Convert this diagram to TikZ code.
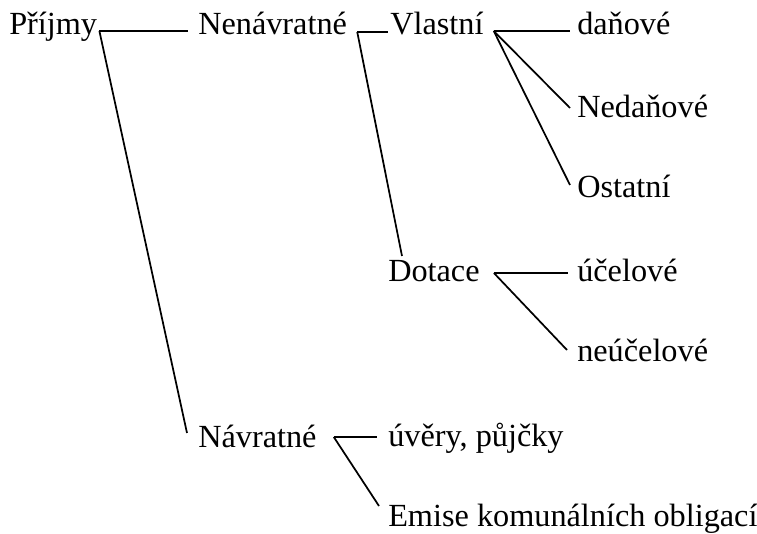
\documentclass[tikz,border=0pt]{standalone}
\usepackage{fontspec}
\setmainfont{Liberation Serif}
\usepackage{tikz}
\usetikzlibrary{positioning,calc}

\tikzset{
  item/.style={anchor=base west,inner sep=0pt,font=\fontsize{24.2}{28}\selectfont},
  branch/.style={line width=1.3pt,line join=miter}
}

\begin{document}
\begin{tikzpicture}[x=0.75pt,y=-0.75pt]
  \useasboundingbox (0,0) rectangle (757,534);
  % labels, placed on their baselines
  \node[item] (prijmy)  at (9,35)  {Příjmy};
  \node[item] (nenavr)  at (198,35) {Nenávratné};
  \node[item] (vlastni) at (390,35) {Vlastní};
  \node[item] (danove)  at (577,35) {daňové};
  \node[item] (nedanove) at (577,118) {Nedaňové};
  \node[item] (ostatni) at (577,198) {Ostatní};
  \node[item] (dotace)  at (388,282) {Dotace};
  \node[item] (ucelove) at (577,282) {účelové};
  \node[item] (neucelove) at (577,362) {neúčelové};
  \node[item] (navr)    at (198,448) {Návratné};
  \node[item] (uvery)   at (388,447) {úvěry, půjčky};
  \node[item] (emise)   at (388,526) {Emise komunálních obligací};
  % branch points
  \coordinate (pfork) at ([shift={(2,-4)}]prijmy.base east);
  \coordinate (nfork) at ([shift={(10,-3)}]nenavr.base east);
  \coordinate (vfork) at ([shift={(10,-4)}]vlastni.base east);
  \coordinate (dfork) at ([shift={(14,-9)}]dotace.base east);
  \coordinate (rfork) at ([shift={(17,-11)}]navr.base east);
  % connectors
  \draw[branch] (pfork) -- ([shift={(-10,-4)}]nenavr.base west);
  \draw[branch] (pfork) -- ([shift={(-11,-15)}]navr.base west);
  \draw[branch] (nfork) -- ([shift={(-2,-3)}]vlastni.base west);
  \draw[branch] (nfork) -- ([shift={(14,-26)}]dotace.base west);
  \foreach \dst/\dy in {danove/-4,nedanove/-10,ostatni/-13}
    \draw[branch] (vfork) -- ([shift={(-7,\dy)}]\dst.base west);
  \draw[branch] (dfork) -- ([shift={(-9,-9)}]ucelove.base west);
  \draw[branch] (dfork) -- ([shift={(-10,-12)}]neucelove.base west);
  \draw[branch] (rfork) -- ([shift={(-11,-10)}]uvery.base west);
  \draw[branch] (rfork) -- ([shift={(-9,-20)}]emise.base west);
\end{tikzpicture}
\end{document}
